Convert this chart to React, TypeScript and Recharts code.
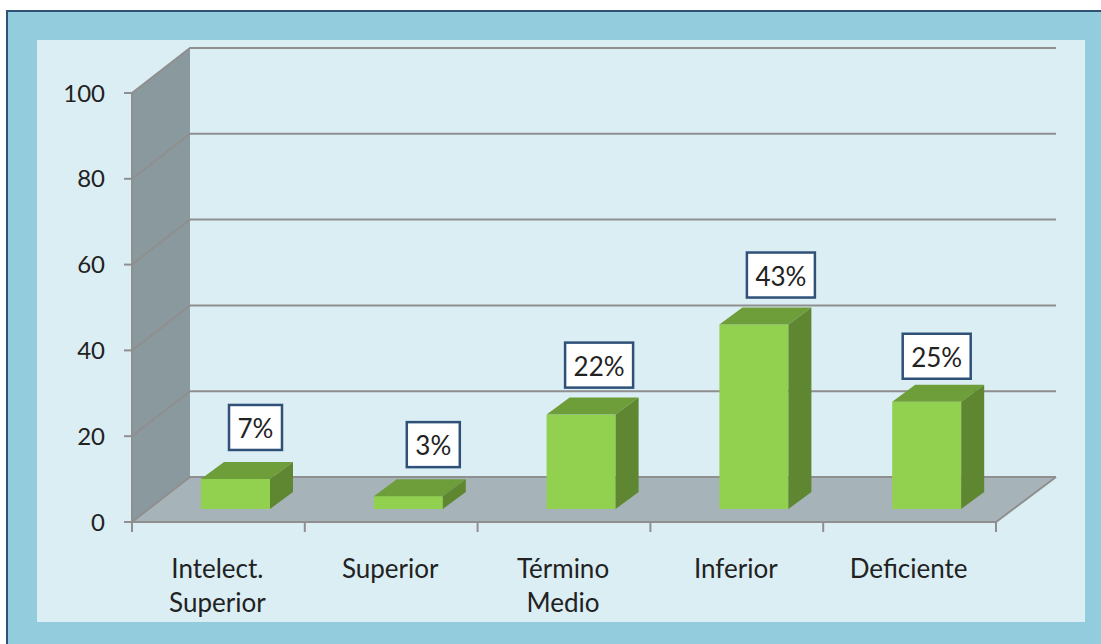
import { BarChart, Bar, XAxis, YAxis, ReferenceArea, LabelList } from 'recharts';

const CATEGORIES = ['Intelect. Superior', 'Superior', 'Término Medio', 'Inferior', 'Deficiente'];
const VALUES = [7, 3, 22, 43, 25];
const Y_TICKS = [0, 20, 40, 60, 80, 100];

const CHART_DATA = CATEGORIES.map((name, i) => ({ name, value: VALUES[i] }));

// fake 3d offsets, same as excel draws them
const WALL_DX = 58;
const WALL_DY = 45;
const FLOOR_RIGHT_DX = 60;
const BAR_DX = 17;
const BAR_DY = 13;
const DEPTH_X = 23;
const DEPTH_Y = 17;

// the labels were placed by hand in the original, so each has its own nudge
const LABEL_NUDGE = [
  { dx: 20, dy: 0 },
  { dx: 25, dy: 0 },
  { dx: 18, dy: 2 },
  { dx: 27, dy: 2 },
  { dx: 10, dy: 6 },
];

const LINE = '#8F8F8F';
const TEXT = '#222222';
const FONT = 'Lato, sans-serif';

// back wall, floor and the gridlines that run over both
function Walls({ x, y, width, height }: any) {
  const bottom = y + height;
  const right = x + width;
  return (
    <g>
      <polygon
        points={`${x},${y} ${x + WALL_DX},${y - WALL_DY} ${x + WALL_DX},${bottom - WALL_DY} ${x},${bottom}`}
        fill="#8A999D"
      />
      <polygon
        points={`${x},${bottom} ${x + WALL_DX},${bottom - WALL_DY} ${right + FLOOR_RIGHT_DX},${bottom - WALL_DY} ${right},${bottom}`}
        fill="#A6B4B9"
      />
      {Y_TICKS.map((t) => {
        const ty = bottom - (height * t) / 100;
        return (
          <path
            key={t}
            d={`M${x},${ty} L${x + WALL_DX},${ty - WALL_DY} L${right + FLOOR_RIGHT_DX},${ty - WALL_DY}`}
            fill="none"
            stroke={LINE}
            strokeWidth={2}
          />
        );
      })}
      <path
        d={`M${x},${bottom} L${right},${bottom} L${right + FLOOR_RIGHT_DX},${bottom - WALL_DY}`}
        fill="none"
        stroke={LINE}
        strokeWidth={2}
      />
    </g>
  );
}

function Box3d({ x, y, width, height }: any) {
  const l = x + BAR_DX;
  const r = l + width;
  const t = y - BAR_DY;
  const b = t + height;
  return (
    <g>
      <rect x={l} y={t} width={width} height={height} fill="#92D050" />
      <polygon points={`${l},${t} ${l + DEPTH_X},${t - DEPTH_Y} ${r + DEPTH_X},${t - DEPTH_Y} ${r},${t}`} fill="#6E9E3A" />
      <polygon points={`${r},${t} ${r + DEPTH_X},${t - DEPTH_Y} ${r + DEPTH_X},${b - DEPTH_Y} ${r},${b}`} fill="#5F8732" />
    </g>
  );
}

function ValueLabel({ x, y, width, value, index }: any) {
  const text = `${value}%`;
  const boxW = text.length > 2 ? 68 : 53;
  const boxH = 45;
  const nudge = LABEL_NUDGE[index];
  const cx = x + width / 2 + BAR_DX + nudge.dx;
  const boxBottom = y - BAR_DY - DEPTH_Y - 12 + nudge.dy;
  return (
    <g>
      <rect x={cx - boxW / 2} y={boxBottom - boxH} width={boxW} height={boxH} fill="#FFFFFF" stroke="#2F5077" strokeWidth={2.5} />
      <text x={cx} y={boxBottom - 12} textAnchor="middle" fontSize={26} fontFamily={FONT} fill={TEXT}>
        {text}
      </text>
    </g>
  );
}

function CategoryTick({ x, y, payload, index, width, visibleTicksCount }: any) {
  const band = width / visibleTicksCount;
  const words = String(payload.value).split(' ');
  const last = index === visibleTicksCount - 1;
  return (
    <g>
      <line x1={x - band / 2} y1={y} x2={x - band / 2} y2={y + 10} stroke={LINE} strokeWidth={2} />
      {last && <line x1={x + band / 2} y1={y} x2={x + band / 2} y2={y + 10} stroke={LINE} strokeWidth={2} />}
      <text textAnchor="middle" fontSize={26} fontFamily={FONT} fill={TEXT}>
        {words.map((w, i) => (
          <tspan key={w} x={x - 1} y={y + 56 + i * 34}>
            {w}
          </tspan>
        ))}
      </text>
    </g>
  );
}

export default function App() {
  return (
    <div style={{ position: 'absolute', left: 0, top: 0, width: 1101, height: 644, background: '#FFFFFF', overflow: 'hidden' }}>
      <div style={{ position: 'absolute', left: 6, top: 10, width: 1095, height: 634, boxSizing: 'border-box', background: '#92CCDD', borderLeft: '2px solid #2F5077', borderTop: '2px solid #2F5077' }} />
      <div style={{ position: 'absolute', left: 37, top: 40, width: 1048, height: 582, background: '#DBEEF4' }} />
      <div style={{ position: 'absolute', left: 0, top: 0 }}>
        <BarChart width={1101} height={644} data={CHART_DATA} margin={{ top: 93, right: 105, bottom: 62, left: 72 }}>
          <ReferenceArea y1={0} y2={100} shape={Walls} ifOverflow="visible" />
          <XAxis dataKey="name" height={60} axisLine={false} tickLine={false} tickSize={0} tickMargin={0} tick={CategoryTick} interval={0} />
          <YAxis
            width={60}
            domain={[0, 100]}
            ticks={Y_TICKS}
            axisLine={{ stroke: LINE, strokeWidth: 2 }}
            tickLine={{ stroke: LINE, strokeWidth: 2 }}
            tickSize={8}
            tickMargin={19}
            tick={{ fontSize: 24, fontFamily: FONT, fill: TEXT }}
          />
          <Bar dataKey="value" barSize={69} shape={Box3d} isAnimationActive={false}>
            <LabelList dataKey="value" content={ValueLabel} />
          </Bar>
        </BarChart>
      </div>
    </div>
  );
}
